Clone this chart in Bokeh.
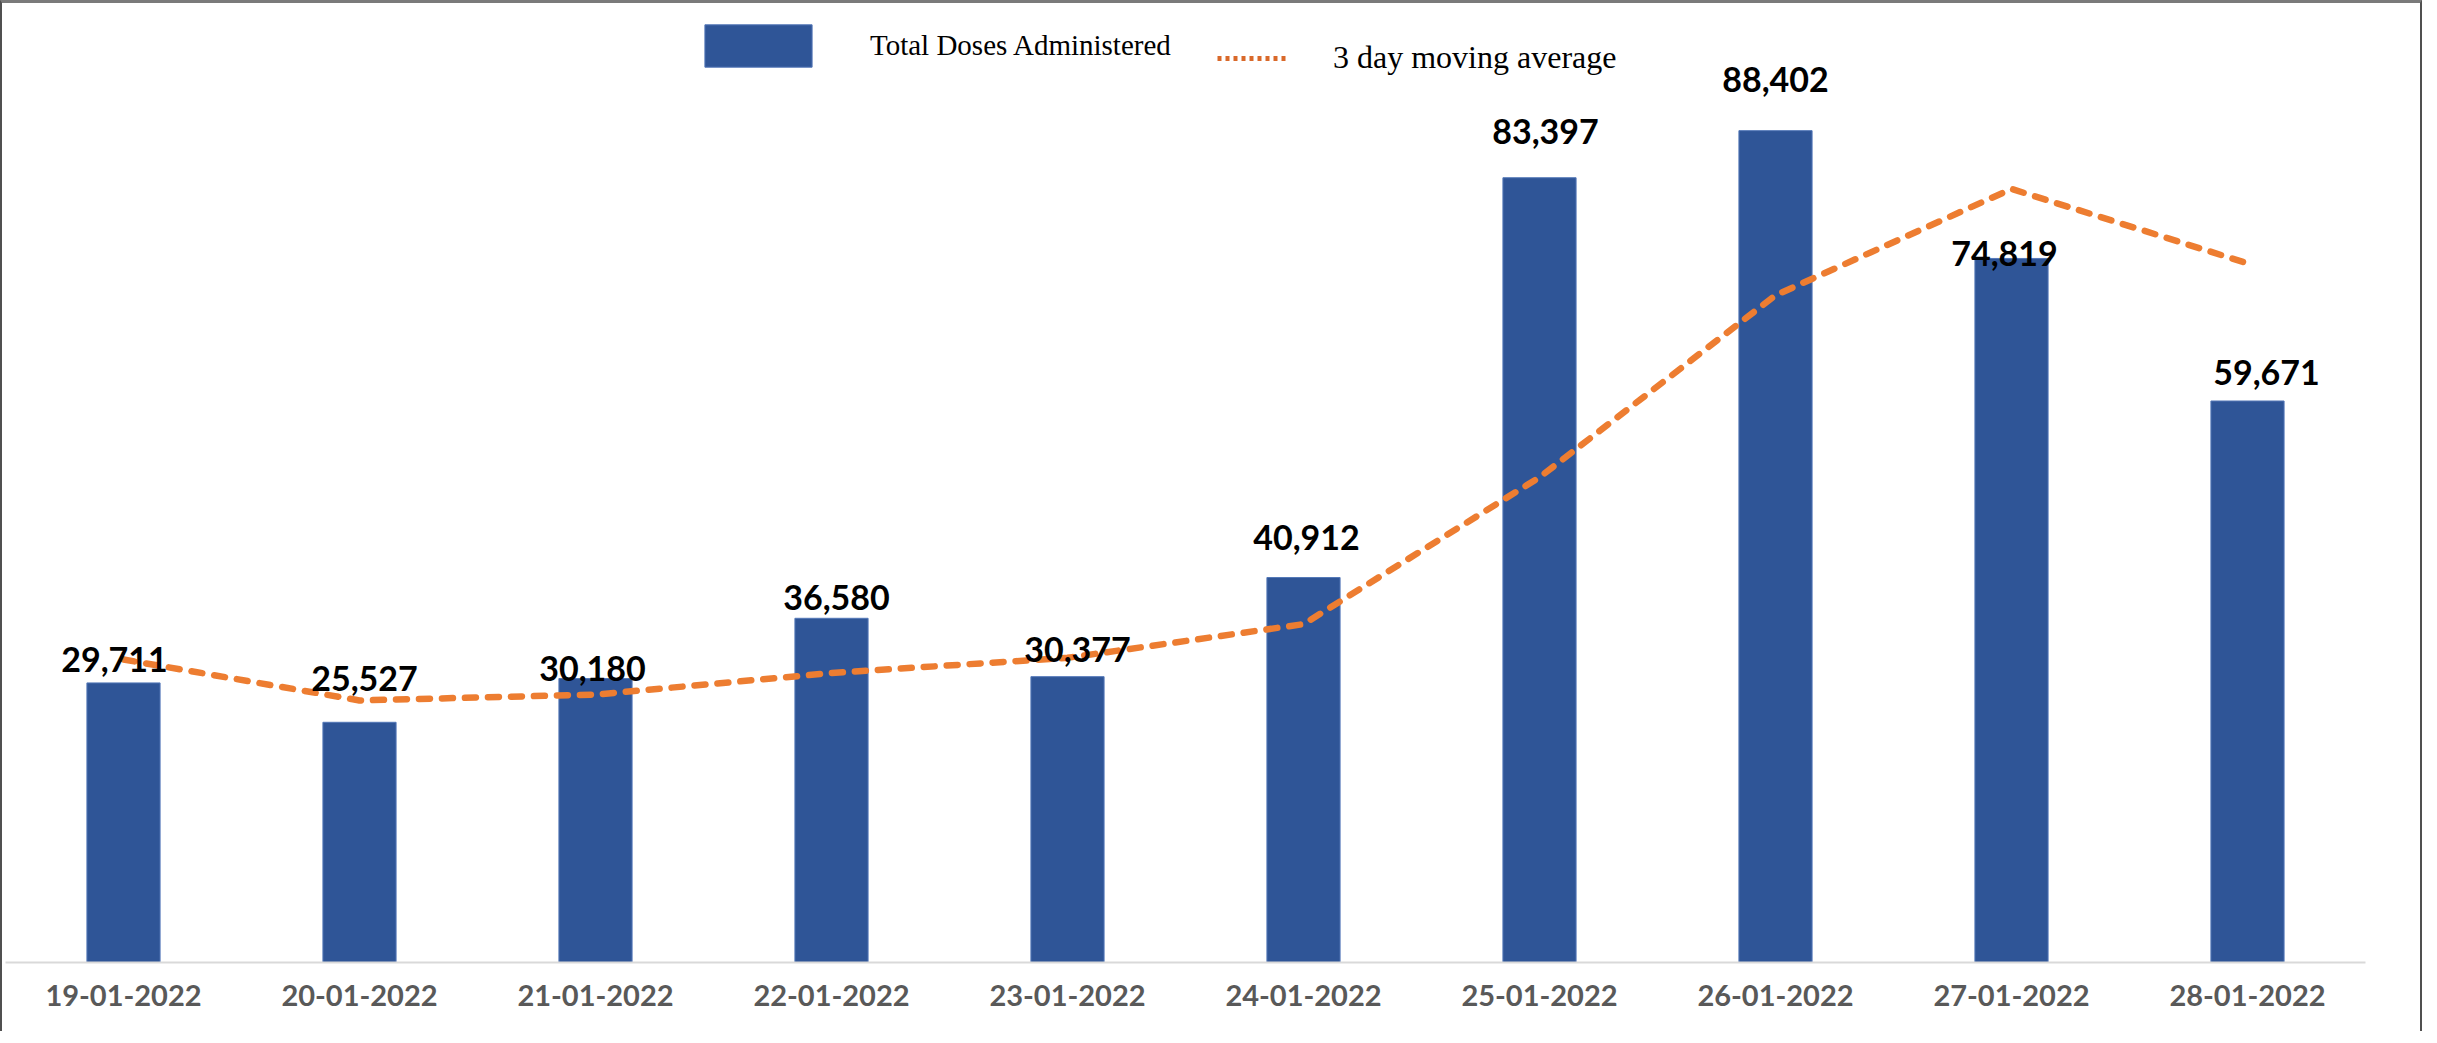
from bokeh.plotting import figure
from bokeh.models import ColumnDataSource, FactorRange, Range1d, Legend, LegendItem
from bokeh.core.properties import value
from bokeh.embed import file_html
from bokeh.resources import INLINE

dates = ["19-01-2022", "20-01-2022", "21-01-2022", "22-01-2022", "23-01-2022",
         "24-01-2022", "25-01-2022", "26-01-2022", "27-01-2022", "28-01-2022"]
doses = [29711, 25527, 30180, 36580, 30377, 40912, 83397, 88402, 74819, 59671]
moving_avg = [32200, 27850, 28473, 30762, 32379, 35956, 51562, 70904, 82206, 74297]

# label nudges (screen px), as placed in the original
label_dx = [-9, 5, -3, 5, 10, 3, 6, 0, -7, 19]
label_gap = [23, 44, 10, 21, 27, 40, 46, 51, 5, 28]

src = ColumnDataSource(dict(
    date=dates, doses=doses, avg=moving_avg,
    label=[f"{v:,}" for v in doses],
    dx=label_dx, dy=[-g for g in label_gap],
))

p = figure(width=2422, height=1031, output_backend="svg", toolbar_location=None,
           x_range=FactorRange(*dates, range_padding=0), y_range=Range1d(0, 100000),
           y_axis_location=None, min_border_left=3, min_border_right=59,
           min_border_top=18, min_border_bottom=72,
           background_fill_color="white", border_fill_color="white")
p.outline_line_color = None
p.xgrid.grid_line_color = None
p.ygrid.grid_line_color = None
p.styles = {"border-top": "3px solid #7a7a7a", "border-left": "2px solid #505050",
            "border-right": "2px solid #505050", "box-sizing": "border-box"}

bars = p.vbar(x="date", top="doses", width=0.31, source=src,
              fill_color="#2F5597", line_color="#5478B8", line_width=1)
avg_line = p.line(x="date", y="avg", source=src, line_color="#ED7D31", line_width=6.5,
                  line_dash="11 12", line_cap="round")
p.text(x="date", y="doses", text="label", x_offset="dx", y_offset="dy", source=src,
       text_align="center", text_baseline="alphabetic", text_font=value("Lato"),
       text_font_style="bold", text_font_size="34px", text_color="black")

ax = p.xaxis[0]
ax.axis_line_color = "#d9d9d9"
ax.axis_line_width = 2
ax.major_tick_line_color = None
ax.minor_tick_line_color = None
ax.major_tick_out = 0
ax.major_tick_in = 0
ax.major_label_standoff = 22
ax.major_label_text_font = "Lato"
ax.major_label_text_font_style = "bold"
ax.major_label_text_font_size = "29px"
ax.major_label_text_color = "#595959"

# legend sample for the line: short dotted stroke as in the original legend
legend_line = p.line(x=dates[:2], y=[float("nan"), float("nan")],
                     line_color="#D9692A", line_width=5, line_dash="4 4")

leg1 = Legend(items=[LegendItem(label="Total Doses Administered", renderers=[bars], index=0)],
              location=(686, 890), glyph_width=134, glyph_height=53, label_height=53,
              label_standoff=45, padding=0, margin=0, spacing=0,
              border_line_color=None, background_fill_alpha=0,
              label_text_font="Liberation Serif", label_text_font_size="29px",
              label_text_color="black")
leg2 = Legend(items=[LegendItem(label="3 day moving average", renderers=[legend_line])],
              location=(1212, 886), glyph_width=71, glyph_height=20, label_height=20,
              label_standoff=45, padding=0, margin=0, spacing=0,
              border_line_color=None, background_fill_alpha=0,
              label_text_font="Liberation Serif", label_text_font_size="32px",
              label_text_color="black")
p.add_layout(leg1, "center")
p.add_layout(leg2, "center")

open("out.html", "w").write(file_html(p, INLINE))
